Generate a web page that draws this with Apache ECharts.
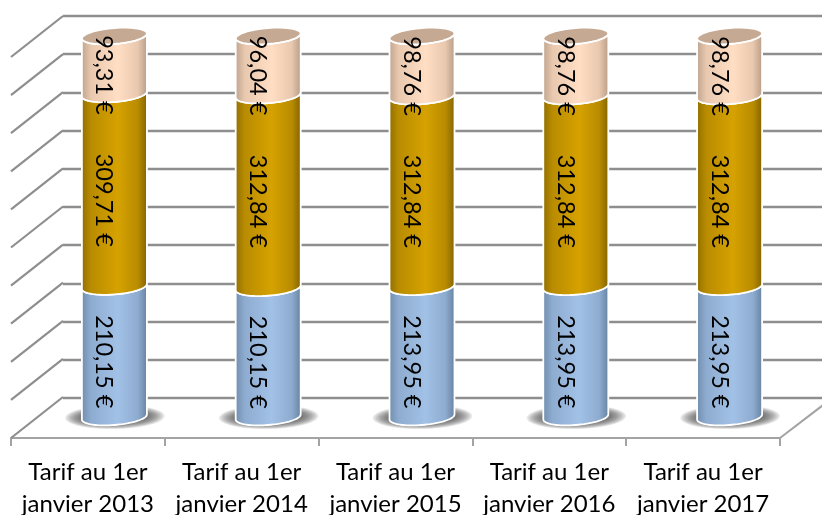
<!DOCTYPE html>
<html><head><meta charset="utf-8">
<style>html,body{margin:0;padding:0;background:#fff}#c{width:822px;height:515px}</style>
<script src="https://cdn.jsdelivr.net/npm/echarts@6/dist/echarts.min.js"></script>
</head><body><div id="c"></div>
<script>
const categories = ['Tarif au 1er\njanvier 2013','Tarif au 1er\njanvier 2014','Tarif au 1er\njanvier 2015','Tarif au 1er\njanvier 2016','Tarif au 1er\njanvier 2017'];
const blueValues = [210.15,210.15,213.95,213.95,213.95];
const goldValues = [309.71,312.84,312.84,312.84,312.84];
const peachValues = [93.31,96.04,98.76,98.76,98.76];
const percentTicks = [0,10,20,30,40,50,60,70,80,90,100];

const DX = 26.5, DY = -21, WALL_DX = 52, WALL_DY = -41;
const FONT = '23.5px Lato, Carlito, "Open Sans", sans-serif';
const totals = categories.map((_, i) => blueValues[i] + goldValues[i] + peachValues[i]);

function stackRows(values, below) {
  return values.map((v, i) => {
    const lo = below.reduce((s, arr) => s + arr[i], 0) / totals[i] * 100;
    return [i, lo, lo + v / totals[i] * 100, v];
  });
}
function fmt(v) { return v.toFixed(2).replace('.', ',') + ' \u20ac'; }
function arc(cx, cy, rx, from, to, ry = 8, s = 2.5) {
  const pts = [];
  for (let k = 0; k <= 36; k++) {
    const t = from + (to - from) * k / 36;
    pts.push([cx + rx * Math.cos(t), cy + ry * Math.sin(t) - s * Math.cos(t)]);
  }
  return pts;
}
function cylinder(colors, isTop) {
  return function (params, api) {
    const i = api.value(0), pLo = api.coord([i, api.value(1)]), pHi = api.coord([i, api.value(2)]);
    const cx = pLo[0] + DX, yLo = pLo[1] + DY, yHi = pHi[1] + DY;
    const rx = api.size([1, 0])[0] * 0.2113;
    const body = arc(cx, yLo, rx, Math.PI, 0).concat(arc(cx, yHi, rx, 0, Math.PI));
    const children = [{
      type: 'polygon', shape: { points: body },
      style: {
        stroke: '#fff', lineWidth: 1.8,
        fill: { type: 'linear', x: 0, y: 0, x2: 1, y2: 0, colorStops: [
          { offset: 0, color: colors[0] }, { offset: 0.15, color: colors[1] },
          { offset: 0.55, color: colors[2] }, { offset: 0.85, color: colors[1] },
          { offset: 1, color: colors[3] }] }
      }
    }];
    if (isTop) children.push({
      type: 'polygon', shape: { points: arc(cx, yHi, rx, 0, Math.PI * 2) },
      style: { fill: '#c6a993', stroke: '#fff', lineWidth: 1.8 }
    });
    children.push({
      type: 'text', x: cx - 10.5, y: (yLo + yHi) / 2 + 10, rotation: -Math.PI / 2,
      style: { text: fmt(api.value(3)), font: FONT, fill: '#000', align: 'center', verticalAlign: 'middle' }
    });
    return { type: 'group', children };
  };
}
function cylSeries(name, rows, colors, isTop) {
  return { type: 'custom', name, xAxisIndex: 0, yAxisIndex: 0, clip: false, data: rows,
    encode: { x: 0, y: [1, 2] }, renderItem: cylinder(colors, isTop), silent: true };
}

const option = {
  animation: false,
  backgroundColor: '#fff',
  grid: [
    { left: 11, right: 42, top: 57, bottom: 77, outerBoundsMode: 'none' },
    { left: 63, right: -20, top: 16, bottom: 117, outerBoundsMode: 'none' }
  ],
  xAxis: [
    { type: 'category', gridIndex: 0, data: categories,
      axisLine: { lineStyle: { color: '#a3a3a3', width: 2 } },
      axisTick: { show: true, length: 8, lineStyle: { color: '#a3a3a3', width: 2 } },
      axisLabel: { color: '#000', fontFamily: 'Lato', fontSize: 24, lineHeight: 32, margin: 18, interval: 0, hideOverlap: false },
      splitLine: { show: false } },
    { type: 'category', gridIndex: 1, data: categories, show: false }
  ],
  yAxis: [
    { type: 'value', gridIndex: 0, min: 0, max: 100, interval: 10, show: false, splitLine: { show: false } },
    { type: 'value', gridIndex: 1, min: 0, max: 100, interval: 10,
      axisLine: { show: false }, axisTick: { show: false }, axisLabel: { show: false },
      splitLine: { show: true, lineStyle: { color: '#8e8e8e', width: 2.4 } } }
  ],
  series: [
    { type: 'custom', name: 'walls', xAxisIndex: 0, yAxisIndex: 0, clip: false, silent: true, z: 1,
      data: percentTicks.map(v => [0, v]), encode: { y: 1 },
      renderItem(params, api) {
        const y = api.coord([0, api.value(1)])[1], x = params.coordSys.x;
        return { type: 'line', shape: { x1: x, y1: y, x2: x + WALL_DX, y2: y + WALL_DY },
          style: { stroke: '#8e8e8e', lineWidth: 2.2 } };
      } },
    { type: 'custom', name: 'floor', xAxisIndex: 0, yAxisIndex: 0, clip: false, silent: true, z: 1,
      data: [[categories.length - 1, 0]], encode: { y: 1 },
      renderItem(params, api) {
        const y = api.coord([0, 0])[1], x = params.coordSys.x + params.coordSys.width;
        return { type: 'line', shape: { x1: x, y1: y, x2: x + WALL_DX, y2: y + WALL_DY * 0.97 },
          style: { stroke: '#a3a3a3', lineWidth: 2 } };
      } },
    { type: 'custom', name: 'shadow', xAxisIndex: 0, yAxisIndex: 0, clip: false, silent: true, z: 2,
      data: categories.map((_, i) => [i, 0]), encode: { x: 0, y: 1 },
      renderItem(params, api) {
        const p = api.coord([api.value(0), 0]);
        const rings = [];
        for (let k = 0; k < 12; k++) {
          rings.push({ type: 'polygon',
            shape: { points: arc(p[0] + DX + 0.5, p[1] + DY, 50 - k * 1.6, 0, Math.PI * 2, 12 - k * 0.5, 1) },
            style: { fill: 'rgba(70,70,70,0.11)' } });
        }
        return { type: 'group', children: rings };
      } },
    Object.assign(cylSeries('Part 1', stackRows(blueValues, []), ['#6f8cab', '#8eacd0', '#a2c1e6', '#64809e'], false), { z: 3 }),
    Object.assign(cylSeries('Part 2', stackRows(goldValues, [blueValues]), ['#8f6d00', '#b98c00', '#d6a200', '#806100'], false), { z: 3 }),
    Object.assign(cylSeries('Part 3', stackRows(peachValues, [blueValues, goldValues]), ['#bda28d', '#e8c8ae', '#ffdec4', '#b59a85'], true), { z: 3 })
  ]
};
echarts.init(document.getElementById('c'), null, { renderer: 'canvas' }).setOption(option);
</script></body></html>
